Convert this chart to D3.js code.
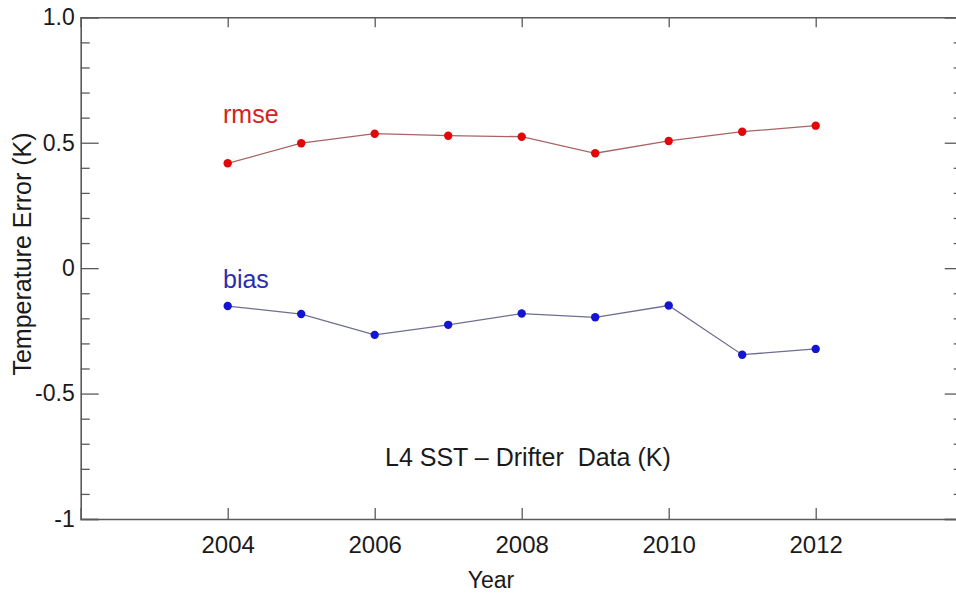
<!DOCTYPE html>
<html>
<head>
<meta charset="utf-8">
<script src="https://cdn.jsdelivr.net/npm/d3@7"></script>
<style>
  html, body { margin: 0; padding: 0; background: #fff; }
  svg { display: block; font-family: "Liberation Sans", Arial, sans-serif; }
</style>
</head>
<body>
<svg id="chart" width="956" height="595"></svg>
<script>
const years = [2004, 2005, 2006, 2007, 2008, 2009, 2010, 2011, 2012];
const rmse  = [0.418, 0.498, 0.536, 0.528, 0.524, 0.458, 0.507, 0.544, 0.568];
const bias  = [-0.151, -0.183, -0.266, -0.226, -0.181, -0.196, -0.149, -0.345, -0.322];
const seriesNames = ["rmse", "bias"];
const xTickValues = [2004, 2006, 2008, 2010, 2012];
const yTickValues = [-1, -0.5, 0, 0.5, 1];
const yTickLabels = ["-1", "-0.5", "0", "0.5", "1.0"];
const yMinorValues = [-0.9, -0.8, -0.7, -0.6, -0.4, -0.3, -0.2, -0.1, 0.1, 0.2, 0.3, 0.4, 0.6, 0.7, 0.8, 0.9];
const xTitle = "Year";
const yTitle = "Temperature Error (K)";
const annotation = "L4 SST \u2013 Drifter\u00a0 Data (K)";

const svg = d3.select("#chart");
const mLeft = 80.7, mRight = 962.7, mTop = 17.3, mBottom = 519;
const x = d3.scaleLinear().domain([2002, 2014]).range([mLeft, mRight]);
const y = d3.scaleLinear().domain([-1, 1]).range([mBottom, mTop]);

const axisColor = "#5a5a5a";
function styleAxis(g) {
  g.select(".domain").attr("stroke", axisColor).attr("stroke-width", 1.6);
  g.selectAll(".tick line").attr("stroke", axisColor).attr("stroke-width", 1.3);
  g.selectAll("text").attr("fill", "#1a1a1a").attr("font-family", "Liberation Sans, Arial, sans-serif");
}

// left major
svg.append("g").attr("transform", `translate(${mLeft},0)`)
  .call(d3.axisLeft(y).tickValues(yTickValues).tickFormat((d, i) => yTickLabels[i]).tickSize(-18).tickPadding(6))
  .call(styleAxis)
  .call(g => g.selectAll("text").attr("font-size", 23));
// left minor
svg.append("g").attr("transform", `translate(${mLeft},0)`)
  .call(d3.axisLeft(y).tickValues(yMinorValues).tickFormat("").tickSize(-9))
  .call(styleAxis).call(g => g.select(".domain").remove());
// right major/minor
svg.append("g").attr("transform", `translate(${mRight},0)`)
  .call(d3.axisRight(y).tickValues(yTickValues).tickFormat("").tickSize(-18))
  .call(styleAxis);
svg.append("g").attr("transform", `translate(${mRight},0)`)
  .call(d3.axisRight(y).tickValues(yMinorValues).tickFormat("").tickSize(-9))
  .call(styleAxis).call(g => g.select(".domain").remove());
// bottom
svg.append("g").attr("transform", `translate(0,${mBottom})`)
  .call(d3.axisBottom(x).tickValues(xTickValues).tickFormat(d3.format("d")).tickSize(-11).tickPadding(17))
  .call(styleAxis)
  .call(g => g.selectAll("text").attr("font-size", 24));
// top
svg.append("g").attr("transform", `translate(0,${mTop})`)
  .call(d3.axisTop(x).tickValues(xTickValues).tickFormat("").tickSize(-10))
  .call(styleAxis);

// titles
svg.append("text").attr("x", 491).attr("y", 588).attr("text-anchor", "middle")
  .attr("font-size", 23).attr("fill", "#1a1a1a").text(xTitle);
svg.append("text").attr("transform", "translate(31,254) rotate(-90)").attr("text-anchor", "middle")
  .attr("font-size", 25).attr("fill", "#1a1a1a").text(yTitle);
svg.append("text").attr("x", 385).attr("y", 466).attr("font-size", 25)
  .attr("fill", "#1a1a1a").style("white-space", "pre").text(annotation);

// series
const series = [
  { name: seriesNames[0], values: rmse, line: "#a86464", point: "#e00808", label: "#d42222", ly: 123 },
  { name: seriesNames[1], values: bias, line: "#6e6e90", point: "#1414d2", label: "#2c2cb0", ly: 288 }
];
const line = d3.line().x((d, i) => x(years[i])).y(d => y(d));
series.forEach(s => {
  svg.append("path").datum(s.values).attr("d", line)
    .attr("fill", "none").attr("stroke", s.line).attr("stroke-width", 1.3);
  svg.append("g").selectAll("circle").data(s.values).join("circle")
    .attr("cx", (d, i) => x(years[i])).attr("cy", d => y(d)).attr("r", 4.2)
    .attr("fill", s.point);
  svg.append("text").attr("x", 223).attr("y", s.ly).attr("font-size", 25)
    .attr("fill", s.label).text(s.name);
});
</script>
</body>
</html>
